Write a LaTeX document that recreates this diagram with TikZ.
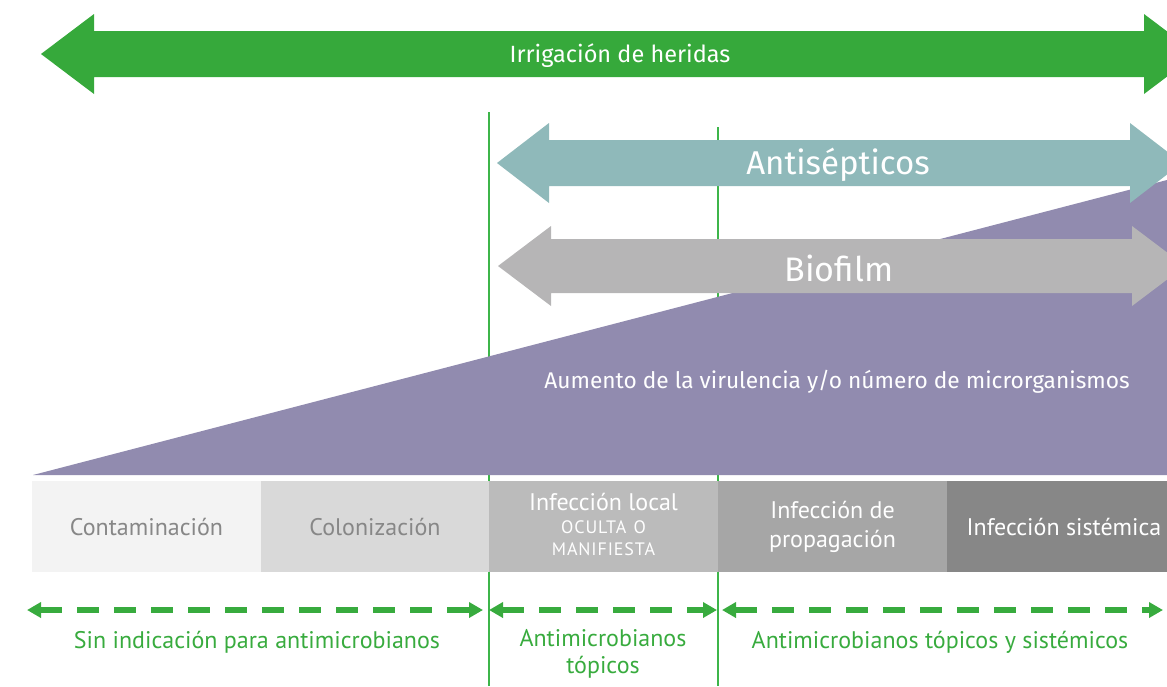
\documentclass[tikz,border=0pt]{standalone}
\usepackage{fontspec}
\setmainfont{PT Sans}
\newfontfamily\arrowfont{Fira Sans}
\usetikzlibrary{arrows.meta}
\definecolor{igreen}{HTML}{36A93B}
\definecolor{vgreen}{HTML}{3DB54A}
\definecolor{dgreen}{HTML}{38AB3E}
\definecolor{teal2}{HTML}{8FB9BA}
\definecolor{bgray}{HTML}{B6B5B6}
\definecolor{purp}{HTML}{918BAF}
\definecolor{boxa}{HTML}{F3F3F3}
\definecolor{boxb}{HTML}{D9D9D9}
\definecolor{boxc}{HTML}{BBBBBB}
\definecolor{boxd}{HTML}{A6A6A6}
\definecolor{boxe}{HTML}{878787}
\definecolor{graytext}{HTML}{878787}
\tikzset{
  vline/.style={draw=vgreen, line width=2pt},
  stagebox/.style={minimum height=91pt, inner sep=0pt, outer sep=0pt, align=center, font=\fontsize{24}{29}\selectfont},
  dasharr/.style={draw=dgreen, line width=5.5pt, dash pattern=on 22pt off 15pt,
    arrows={Triangle[length=14pt,width=15pt,fill=dgreen]-Triangle[length=14pt,width=15pt,fill=dgreen]}},
  greenlabel/.style={text=dgreen, align=center, font=\fontsize{24}{27}\selectfont},
}
\begin{document}
\begin{tikzpicture}[x=1pt,y=-1pt]
\useasboundingbox (0,0) rectangle (1167,686);
\clip (0,0) rectangle (1167,686);
% vertical separators
\draw[vline] (489,112) -- (489,686);
\draw[vline] (718,127) -- (718,686);
% virulence triangle
\fill[purp] (33,475) -- (1167,180) -- (1167,475) -- cycle;
% irrigation arrow
\fill[igreen] (41,54) -- (94,14) -- (94,31) -- (1144,31) -- (1144,14) -- (1197,54) -- (1144,94) -- (1144,77) -- (94,77) -- (94,94) -- cycle;
% antiseptics arrow
\fill[teal2] (497,163) -- (549,123) -- (549,140) -- (1130,140) -- (1130,123) -- (1182,163) -- (1130,203) -- (1130,186) -- (549,186) -- (549,203) -- cycle;
% biofilm arrow
\fill[bgray] (498,266) -- (551,226) -- (551,239) -- (1132,239) -- (1132,226) -- (1185,266) -- (1132,306) -- (1132,293) -- (551,293) -- (551,306) -- cycle;
% labels on arrows
\node[text=white, font=\arrowfont\fontsize{23.5}{28}\selectfont] (irr) at (620,56) {Irrigación de heridas};
\node[text=white, font=\arrowfont\fontsize{33}{38}\selectfont] (anti) at (838,165) {Antisépticos};
\node[text=white, font=\arrowfont\fontsize{34}{39}\selectfont] (bio) at (839,268) {Biofilm};
\node[text=white, font=\arrowfont\fontsize{22.7}{27}\selectfont] (aum) at (837,382) {Aumento de la virulencia y/o número de microrganismos};
% stage boxes
\node[stagebox, fill=boxa, text=graytext, minimum width=229pt] (cont) at (146.5,526.5) {Contaminación};
\node[stagebox, fill=boxb, text=graytext, minimum width=228pt] (colo) at (375,526.5) {Colonización};
\node[stagebox, fill=boxc, text=white, minimum width=229pt] (loc) at (603.5,526.5) {};
\node[stagebox, fill=boxd, text=white, minimum width=229pt] (prop) at (832.5,526.5) {Infección de\\propagación};
\node[stagebox, fill=boxe, text=white, minimum width=234pt] (sist) at (1064,526.5) {Infección sistémica};
\node[text=white, font=\fontsize{24}{28}\selectfont, inner sep=0pt] (loct) at (603.5,502) {Infección local};
\node[text=white, font=\addfontfeatures{LetterSpace=5}\fontsize{18}{22}\selectfont, inner sep=0pt, align=center] (locb) at (603.5,538) {OCULTA\hspace{0.4em}O\\MANIFIESTA};
% dashed range arrows
\coordinate (d1a) at (27,610);
\coordinate (d1b) at (483,610);
\coordinate (d2a) at (489,610);
\coordinate (d2b) at (717,610);
\coordinate (d3a) at (722,610);
\coordinate (d3b) at (1163,610);
\draw[dasharr] (d1a) -- (d1b);
\draw[dasharr] (d2a) -- (d2b);
\draw[dasharr] (d3a) -- (d3b);
\node[greenlabel] (sin) at (257,642) {Sin indicación para antimicrobianos};
\node[greenlabel] (top) at (603,654) {Antimicrobianos\\tópicos};
\node[greenlabel] (tys) at (940,642) {Antimicrobianos tópicos y sistémicos};
\end{tikzpicture}
\end{document}
